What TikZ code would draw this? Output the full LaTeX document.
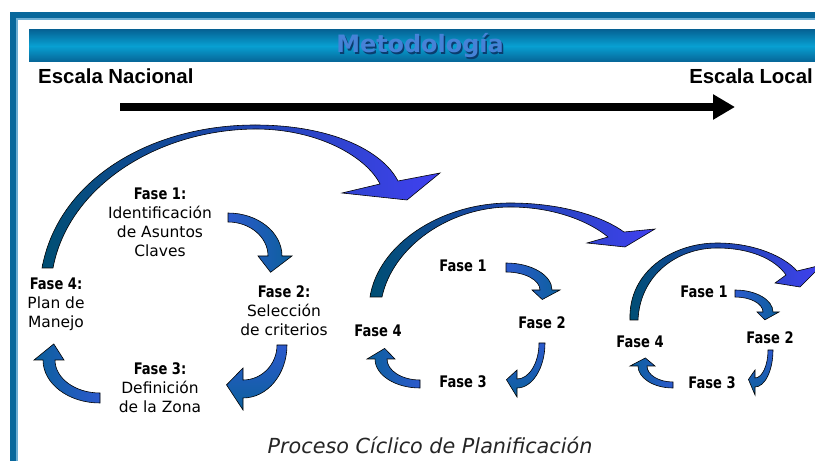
\documentclass[tikz,border=0pt]{standalone}
\usepackage{fontspec}
\setmainfont{DejaVu Sans}
\newfontfamily\fasefont{DejaVu Sans}[FakeStretch=0.82]
\newfontfamily\escfont{Liberation Sans}
\usetikzlibrary{calc,arrows.meta}

\definecolor{frameblue}{RGB}{8,104,156}
\definecolor{framelight}{RGB}{110,175,212}
\definecolor{bardark}{RGB}{6,100,150}
\definecolor{barlight}{RGB}{8,160,210}
\definecolor{titleblue}{RGB}{70,130,215}
\definecolor{titledark}{RGB}{10,60,110}
\definecolor{arcteal}{RGB}{0,78,115}
\definecolor{arcblue}{RGB}{64,64,240}
\definecolor{cycblue}{RGB}{44,90,205}
\definecolor{cycteal}{RGB}{12,96,156}

% curved block arrow: centre, start, end, outer rx, ry, inner rx, ry, head, shading
\newcommand\cyclearrow[9]{%
  \path[draw=black,line width=0.5pt,#9]
    ($(#1)+(#2:#4 and #5)$) arc[start angle=#2,end angle=#3,x radius=#4,y radius=#5]
    -- ($(#1)+(#3:{#4+#8} and {#5+#8})$)
    -- ($(#1)+({#3+25}:{(#4+#6)/2} and {(#5+#7)/2})$)
    -- ($(#1)+(#3:{#6-#8} and {#7-#8})$)
    -- ($(#1)+(#3:#6 and #7)$) arc[start angle=#3,end angle=#2,x radius=#6,y radius=#7]
    -- cycle;}

\begin{document}
\begin{tikzpicture}[x=0.03cm,y=-0.03cm,
    phase/.style={align=center,inner sep=0pt,
                  font=\fontsize{13.2pt}{16.2pt}\selectfont},
    phaseb/.style={inner sep=0pt,
                   font=\fasefont\bfseries\fontsize{13.6pt}{16.2pt}\selectfont},
    escala/.style={inner sep=0pt,
                   font=\escfont\bfseries\fontsize{17.4pt}{20pt}\selectfont},
    titletext/.style={inner sep=0pt,
                      font=\bfseries\fontsize{20.4pt}{24pt}\selectfont},
    bigarc/.style={draw=black,line width=0.5pt,
                   left color=arcteal,right color=arcblue},
    cwtop/.style={left color=cycblue,right color=cycteal},
    cwright/.style={top color=cycblue,bottom color=cycteal},
    cwbottom/.style={right color=cycblue,left color=cycteal}]
\useasboundingbox (0,0) rectangle (815,461);
\fill[white] (0,0) rectangle (815,461);

% frame
\fill[frameblue] (10,12) rectangle (815,461);
\fill[framelight] (16,18.5) rectangle (815,461);
\fill[white] (17.5,20) rectangle (815,461);

% title bar
\shade[top color=bardark,bottom color=bardark,middle color=barlight]
    (29,30) rectangle (815,62);
\node[titletext,text=titledark] (titleshadow) at (421.5,47.5) {Metodología};
\node[titletext,text=titleblue] (title) at (420,46) {Metodología};

% scale
\node[escala,anchor=base west] (nacional) at (38,84) {Escala Nacional};
\node[escala,anchor=base east] (local) at (813,84) {Escala Local};
\coordinate (natl) at (120,107);
\coordinate (locl) at (735,107);
\draw[line width=0.24cm,-{Triangle[length=0.66cm,width=0.72cm]}] (natl) -- (locl);

% big arcs between cycles
\path[bigarc] (42,268) .. controls (58,180) and (150,125) .. (255,125)
    .. controls (330,125) and (382,150) .. (398,181)
    -- (440,173) -- (407,200) -- (342,193) -- (380,184)
    .. controls (367,158) and (320,129) .. (255,129)
    .. controls (155,130) and (68,188) .. (53,268) -- cycle;
\path[bigarc] (370,297) .. controls (378,245) and (440,203) .. (510,203)
    .. controls (565,203) and (605,218) .. (624,232)
    -- (655,229) -- (625,247) -- (587,243) -- (608,237)
    .. controls (590,222) and (555,207) .. (510,207)
    .. controls (450,207) and (393,246) .. (382,297) -- cycle;
\path[bigarc] (630,320) .. controls (628,272) and (672,243) .. (717,243)
    .. controls (755,243) and (785,257) .. (797,271)
    -- (822,265) -- (800,287) -- (775,283) -- (786,275)
    .. controls (775,259) and (750,248) .. (717,248)
    .. controls (677,248) and (640,275) .. (638,320) -- cycle;

% cycle 1
\node[phase] (f1a) at (160,222) {{\fasefont\bfseries\fontsize{13.6pt}{16.2pt}\selectfont Fase 1:}\\Identificación\\de Asuntos\\Claves};
\node[phase] (f2a) at (284,311) {{\fasefont\bfseries\fontsize{13.6pt}{16.2pt}\selectfont Fase 2:}\\Selección\\de criterios};
\node[phase] (f3a) at (160,388) {{\fasefont\bfseries\fontsize{13.6pt}{16.2pt}\selectfont Fase 3:}\\Definición\\de la Zona};
\node[phase] (f4a) at (56,304) {{\fasefont\bfseries\fontsize{13.6pt}{16.2pt}\selectfont Fase 4:}\\Plan de\\Manejo};
\coordinate (c12a) at (228,256);
\coordinate (c23a) at (243,345);
\coordinate (c34a) at (100,360);
\cyclearrow{c12a}{-90}{0}{54}{43}{40}{34}{10}{cwtop}
\cyclearrow{c23a}{0}{90}{44}{53}{34}{35}{12}{cwright}
\cyclearrow{c34a}{90}{180}{57}{43}{45}{33}{9}{cwbottom}

% cycle 2
\node[phaseb] (f1b) at (463,266) {Fase 1};
\node[phaseb] (f2b) at (542,323) {Fase 2};
\node[phaseb] (f3b) at (463,382) {Fase 3};
\node[phaseb] (f4b) at (378,331) {Fase 4};
\coordinate (c12b) at (506,290);
\coordinate (c23b) at (517,343);
\coordinate (c34b) at (420,359);
\cyclearrow{c12b}{-90}{0}{46}{27}{34}{18}{8}{cwtop}
\cyclearrow{c23b}{0}{90}{28}{45}{22}{36}{9}{cwright}
\cyclearrow{c34b}{90}{180}{45}{29}{33}{21}{8}{cwbottom}

% cycle 3
\node[phaseb] (f1c) at (704,292) {Fase 1};
\node[phaseb] (f2c) at (770,338) {Fase 2};
\node[phaseb] (f3c) at (712,383) {Fase 3};
\node[phaseb] (f4c) at (640,342) {Fase 4};
\coordinate (c12c) at (735,312);
\coordinate (c23c) at (755,350);
\coordinate (c34c) at (673,366);
\cyclearrow{c12c}{-90}{0}{38}{22}{28}{15}{6}{cwtop}
\cyclearrow{c23c}{0}{90}{18}{37}{13}{28}{8}{cwright}
\cyclearrow{c34c}{90}{180}{35}{22}{26}{16}{8}{cwbottom}

% caption
\node[font=\itshape\fontsize{17.7pt}{20pt}\selectfont,text=black!85] (caption)
    at (430,445) {Proceso Cíclico de Planificación};
\end{tikzpicture}
\end{document}
